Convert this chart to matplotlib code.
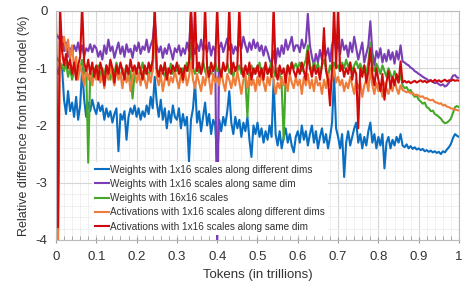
import numpy as np
import matplotlib
matplotlib.use('Agg')
import matplotlib.pyplot as plt
from matplotlib.ticker import MultipleLocator

plt.rcParams['font.family'] = ['Liberation Sans', 'DejaVu Sans']

# Token axis (trillions), one sample every 0.005
tokens = np.round(np.arange(0, 201) * 0.005, 3)

# Relative difference from bf16 model (%), 20 values per 0.1 step
w_diff_dims = [
    -1.0, -1.1, -0.95, -0.98, -1.55, -1.8, -1.4, -1.75, -1.6, -1.85, -1.5, -1.9, -1.65, -1.0, -1.55, -1.85, -1.6, -1.75, -1.55, -1.7,
    -1.8, -1.6, -1.75, -1.65, -1.9, -1.7, -1.85, -1.75, -1.95, -1.8, -1.7, -2.45, -1.8, -1.9, -1.75, -2.25, -1.85, -1.7, -1.8, -1.65,
    -1.85, -1.7, -1.9, -1.75, -1.85, -1.65, -1.8, -1.5, -1.7, -1.15, -1.6, -1.85, -1.55, -1.9, -1.7, -2.05, -1.75, -1.95, -1.65, -1.85,
    -1.9, -1.7, -2.05, -1.8, -2.0, -1.85, -2.63, -1.9, -1.7, -1.25, -1.95, -1.75, -2.1, -1.85, -1.6, -2.0, -1.8, -2.15, -1.9, -2.0,
    -2.6, -1.9, -2.1, -1.85, -2.0, -1.75, -1.4, -1.95, -2.15, -1.85, -2.05, -1.9, -2.2, -1.95, -2.1, -1.85, -2.25, -2.55, -2.0, -2.15,
    -1.95, -2.2, -2.05, -2.3, -2.1, -2.25, -2.0, -2.2, -1.2, -2.15, -2.35, -2.1, -2.4, -2.2, -2.05, -2.3, -2.15, -2.35, -2.47, -2.2,
    -2.1, -2.3, -2.0, -2.25, -2.1, -2.35, -2.15, -2.0, -2.3, -2.1, -2.4, -2.2, -2.05, -2.3, -2.15, -2.4, -2.2, -1.95, -1.12, -2.05,
    -2.2, -2.4, -2.15, -2.9, -2.3, -2.1, -2.35, -2.2, -2.05, -1.95, -2.3, -2.15, -2.4, -2.2, -2.35, -2.1, -1.95, -2.3, -2.15, -2.4,
    -2.2, -2.35, -2.15, -2.75, -2.3, -2.2, -2.4, -2.25, -2.35, -2.2, -2.3, -2.15, -2.35, -2.38, -2.33, -2.4, -2.36, -2.41, -2.38, -2.42,
    -2.4, -2.43, -2.41, -2.45, -2.43, -2.46, -2.44, -2.47, -2.45, -2.48, -2.46, -2.5, -2.45, -2.47, -2.42, -2.38, -2.32, -2.22, -2.15, -2.18,
    -2.2,
]
w_same_dim = [
    -0.4, -0.45, -0.5, -0.45, -0.7, -0.55, -0.8, -0.65, -0.75, -0.6, -0.7, -0.55, -0.75, -0.6, -0.8, -0.65, -0.7, -0.58, -0.72, -0.6,
    -0.65, -0.8, -0.7, -0.85, -0.6, -0.75, -0.5, -0.7, -0.62, -0.82, -0.68, -0.55, -0.75, -0.62, -0.8, -0.58, -0.72, -0.66, -0.82, -0.6,
    -0.7, -0.55, -0.75, -0.62, -0.68, -0.5, -0.72, -0.6, -0.5, -0.12, -0.6, -0.72, -0.62, -0.82, -0.65, -0.75, -0.58, -0.7, -0.85, -0.65,
    -0.72, -0.6, -0.78, -0.65, -0.75, -0.55, -0.7, 0.0, -0.62, -0.75, -0.58, -0.7, -0.5, -0.68, -0.6, -0.72, -0.55, -0.78, -0.62, -0.7,
    -4.2, -0.65, -0.55, -0.72, -0.6, -0.48, -0.68, -0.58, -0.75, -0.62, -0.7, -0.52, -0.66, -0.45, -0.6, -0.72, -0.55, -0.68, -0.5, -0.65,
    -0.55, -0.7, -0.6, -0.78, -0.62, -0.72, -0.85, -0.95, -0.7, -0.92, -0.65, -0.8, -0.6, -0.75, -0.5, -0.68, -0.58, -0.45, -0.7, -0.6,
    -0.6, -0.72, -0.5, -0.65, -0.55, -0.05, -0.6, -0.8, -0.95, -0.75, -0.9, -0.68, -0.85, -0.6, -0.78, -0.65, -0.88, -0.6, -0.45, -0.7,
    -0.55, -0.75, -0.5, -0.68, -0.6, -0.8, -0.55, -0.72, -0.45, -0.65, -0.85, -0.7, -0.55, -0.9, -0.75, -0.6, -0.18, -0.72, -0.95, -0.7,
    -0.82, -0.65, -0.9, -0.75, -0.88, -0.68, -0.85, -0.72, -0.92, -0.7, -0.85, -0.6, -0.88, -0.9, -0.93, -0.95, -0.99, -1.01, -1.05, -1.07,
    -1.1, -1.12, -1.15, -1.17, -1.19, -1.22, -1.21, -1.24, -1.26, -1.25, -1.28, -1.3, -1.28, -1.32, -1.3, -1.25, -1.2, -1.13, -1.12, -1.16,
    -1.17,
]
w_16x16 = [
    -0.8, -0.85, -0.9, -0.95, -1.05, -0.9, -1.15, -1.0, -1.2, -1.05, -0.95, -1.1, -1.0, -0.85, -1.1, -1.0, -2.65, -1.05, -1.2, -1.0,
    -1.1, -0.95, -1.15, -1.0, -1.12, -0.95, -1.05, -1.2, -1.0, -1.1, -0.9, -1.05, -1.15, -1.0, -1.1, -0.95, -1.2, -1.05, -1.53, -1.1,
    -1.0, -1.15, -1.05, -0.9, -1.1, -1.0, -1.2, -0.95, -1.05, -0.15, -1.0, -1.12, -0.95, -1.05, -1.15, -1.0, -1.08, -0.92, -1.1, -1.0,
    -1.05, -0.95, -1.12, -1.0, -1.1, -0.9, -1.05, -0.55, -1.0, -1.1, -0.95, -1.08, -1.0, -0.88, -1.05, -1.15, -0.98, -1.1, -1.02, -0.9,
    -1.05, -1.0, -1.12, -0.95, -1.05, -0.92, -1.08, -1.0, -1.15, -0.98, -1.05, -0.95, -1.1, -1.0, -1.2, -1.85, -1.05, -0.95, -1.1, -1.0,
    -1.05, -0.9, -1.1, -1.0, -0.95, -1.1, -1.0, -0.88, -1.05, -1.15, -1.0, -1.1, -1.3, -2.25, -1.1, -0.95, -1.05, -0.9, -1.0, -0.92,
    -1.0, -0.9, -1.05, -0.95, -0.85, -0.6, -0.95, -1.05, -0.9, -1.0, -0.92, -1.08, -0.95, -0.85, -1.0, -1.15, -0.95, -1.05, -0.9, -1.0,
    -0.95, -1.05, -0.9, -1.0, -0.85, -0.98, -0.9, -1.05, -0.95, -0.88, -1.0, -0.92, -1.05, -0.95, -1.1, -0.9, -0.55, -0.95, -1.05, -0.92,
    -1.0, -1.1, -0.95, -1.05, -1.15, -1.0, -1.1, -1.2, -1.05, -1.15, -1.25, -1.1, -1.3, -1.35, -1.33, -1.4, -1.38, -1.45, -1.5, -1.48,
    -1.55, -1.58, -1.62, -1.6, -1.68, -1.7, -1.75, -1.74, -1.8, -1.82, -1.85, -1.88, -1.93, -1.96, -1.95, -1.92, -1.88, -1.78, -1.68, -1.66,
    -1.68,
]
a_diff_dims = [
    -0.3, -4.3, -0.35, -0.55, -0.45, -0.7, -0.5, -0.85, -0.6, -1.0, -0.8, -1.2, -0.95, -1.1, -1.3, -1.0, -1.2, -1.05, -1.3, -1.1,
    -1.2, -1.0, -1.25, -1.1, -1.35, -1.05, -1.2, -0.95, -1.15, -1.3, -1.0, -1.2, -1.1, -1.35, -1.05, -1.25, -1.1, -1.4, -1.15, -1.0,
    -1.25, -1.1, -1.3, -1.05, -1.2, -1.35, -1.1, -1.25, -1.0, -0.2, -1.15, -1.3, -1.1, -1.4, -1.2, -1.05, -1.3, -1.15, -1.25, -1.05,
    -1.2, -1.35, -1.1, -1.25, -1.05, -1.3, -1.15, -0.9, -1.2, -1.35, -1.1, -1.25, -1.4, -1.15, -1.3, -1.05, -1.2, -1.45, -1.1, -1.25,
    -1.15, -1.3, -1.05, -1.25, -1.4, -1.1, -1.2, -1.35, -1.15, -1.3, -1.05, -1.25, -1.45, -1.2, -1.1, -1.35, -1.15, -1.3, -1.2, -1.4,
    -1.15, -1.3, -1.1, -1.25, -1.4, -1.15, -1.3, -1.05, -1.2, -1.45, -1.25, -1.35, -1.15, -1.3, -1.2, -1.4, -1.1, -1.25, -1.35, -1.15,
    -1.3, -1.2, -1.45, -1.15, -1.3, -1.1, -1.35, -1.2, -1.4, -1.15, -1.3, -1.25, -1.45, -1.2, -1.35, -1.1, -1.3, -1.2, -1.0, -1.25,
    -1.15, -1.3, -1.2, -1.4, -1.25, -1.35, -1.15, -1.3, -1.45, -1.2, -1.35, -1.25, -1.5, -1.3, -1.2, -1.4, -1.0, -1.3, -1.45, -1.25,
    -1.4, -1.3, -1.5, -1.25, -1.35, -1.45, -1.3, -1.4, -1.2, -1.35, -1.45, -1.3, -1.38, -1.4, -1.42, -1.41, -1.44, -1.43, -1.47, -1.46,
    -1.48, -1.5, -1.49, -1.53, -1.52, -1.55, -1.56, -1.55, -1.59, -1.6, -1.62, -1.61, -1.65, -1.64, -1.67, -1.68, -1.7, -1.71, -1.72, -1.73,
    -1.74,
]
a_same_dim = [
    0.0, -3.78, 0.1, -0.7, -0.95, -0.75, -1.0, -0.85, -1.1, -0.9, -1.2, -0.95, -0.8, 0.1, -0.9, -1.05, -0.85, -1.1, -0.9, -1.15,
    -0.95, -1.2, -0.9, -1.05, -1.3, -0.95, -1.1, -0.85, -1.0, -1.25, -0.95, -1.1, -0.9, -1.05, -1.2, -0.95, -1.1, -0.85, -1.05, -0.95,
    -1.1, -0.9, -1.05, -1.2, -0.95, -1.1, -0.9, -1.05, -0.85, 0.1, -1.0, -1.15, -0.95, -1.1, -0.9, -1.2, -1.0, -1.1, -0.95, -1.05,
    -0.9, -1.1, -1.0, -1.2, -0.95, -1.05, -0.9, 0.1, -1.0, 0.1, -1.05, -0.9, -1.1, -0.95, 0.1, -1.0, -1.15, -0.9, -1.05, -0.95,
    0.1, -1.0, -1.15, -0.9, -1.05, -0.95, 0.1, -1.1, -0.9, -1.05, -0.95, 0.1, -1.0, -1.15, -0.95, -1.1, -0.9, -1.2, -1.0, -1.1,
    -0.95, -1.15, -1.0, -1.2, -0.9, -1.1, -1.0, -1.15, 0.1, -1.05, -1.2, -0.95, -1.1, -1.0, -1.25, -0.95, -1.1, -0.9, -1.05, -1.15,
    -1.0, -1.1, -0.9, -1.05, -1.2, -0.7, -1.0, -1.15, -0.95, -1.1, -1.0, -1.2, -0.95, -0.3, -1.05, -1.2, -1.65, -1.0, 0.1, -1.0,
    0.1, -1.05, -0.95, -1.15, -1.0, -1.1, -0.9, -1.2, -1.0, -1.1, -2.05, -1.0, -1.15, -0.95, -1.25, -1.05, -0.65, -1.1, -1.3, -1.0,
    -1.2, -1.4, -1.1, -1.55, -1.25, -1.05, -1.35, -1.15, -1.3, -1.1, -1.25, -0.88, -1.25, -1.22, -1.25, -1.23, -1.26, -1.24, -1.22, -1.25,
    -1.23, -1.21, -1.24, -1.22, -1.25, -1.23, -1.21, -1.24, -1.2, -1.23, -1.21, -1.24, -1.22, -1.2, -1.23, -1.21, -1.22, -1.2, -1.22, -1.21,
    -1.22,
]

labels = [
    'Weights with 1x16 scales along different dims',
    'Weights with 1x16 scales along same dim',
    'Weights with 16x16 scales',
    'Activations with 1x16 scales along different dims',
    'Activations with 1x16 scales along same dim',
]
colors = ['#0a6fc2', '#7b3db5', '#45a829', '#f07c3a', '#d00a0a']
series = [w_diff_dims, w_same_dim, w_16x16, a_diff_dims, a_same_dim]

x_ticks = [0, 0.1, 0.2, 0.3, 0.4, 0.5, 0.6, 0.7, 0.8, 0.9, 1]
x_tick_labels = ['0', '0.1', '0.2', '0.3', '0.4', '0.5', '0.6', '0.7', '0.8', '0.9', '1']
y_ticks = [0, -1, -2, -3, -4]
y_tick_labels = ['0', '-1', '-2', '-3', '-4']

fig = plt.figure(figsize=(4.76, 2.84), dpi=100)
ax = fig.add_axes([0.1176, 0.155, 0.8467, 0.8063])

for vals, lab, c in zip(series, labels, colors):
    ax.plot(tokens, vals, color=c, lw=1.5, label=lab)

ax.set_xlim(0, 1)
ax.set_ylim(-4, 0)
ax.set_xticks(x_ticks)
ax.set_xticklabels(x_tick_labels)
ax.set_yticks(y_ticks)
ax.set_yticklabels(y_tick_labels)
ax.xaxis.set_minor_locator(MultipleLocator(0.02))
ax.yaxis.set_minor_locator(MultipleLocator(0.2))

ax.grid(which='major', color='#d6d6d6', lw=0.8)
ax.grid(which='minor', color='#eeeeee', lw=0.6)
ax.set_axisbelow(True)
for s in ax.spines.values():
    s.set_color('#bbbbbb')
    s.set_linewidth(0.8)

ax.tick_params(axis='x', which='major', direction='inout', length=4, color='#999999', labelsize=9.5, labelcolor='#333333', pad=6)
ax.tick_params(axis='x', which='minor', direction='in', length=3, color='#999999')
ax.tick_params(axis='y', which='both', length=0, labelsize=9.5, labelcolor='#333333', pad=6)

ax.set_xlabel('Tokens (in trillions)', fontsize=9.5, color='#333333', labelpad=4)
ax.set_ylabel('Relative difference from bf16 model (%)', fontsize=9, color='#333333', labelpad=4)

leg = ax.legend(loc='lower left', bbox_to_anchor=(0.085, 0.015), fontsize=7.2, frameon=True,
                handlelength=1.4, handletextpad=0.1, labelspacing=0.42, borderpad=0.3,
                borderaxespad=0.2)
leg.get_frame().set_edgecolor('none')
leg.get_frame().set_facecolor('white')
leg.get_frame().set_alpha(1)
for t in leg.get_texts():
    t.set_color('#333333')

fig.savefig('out.png', dpi=100)
